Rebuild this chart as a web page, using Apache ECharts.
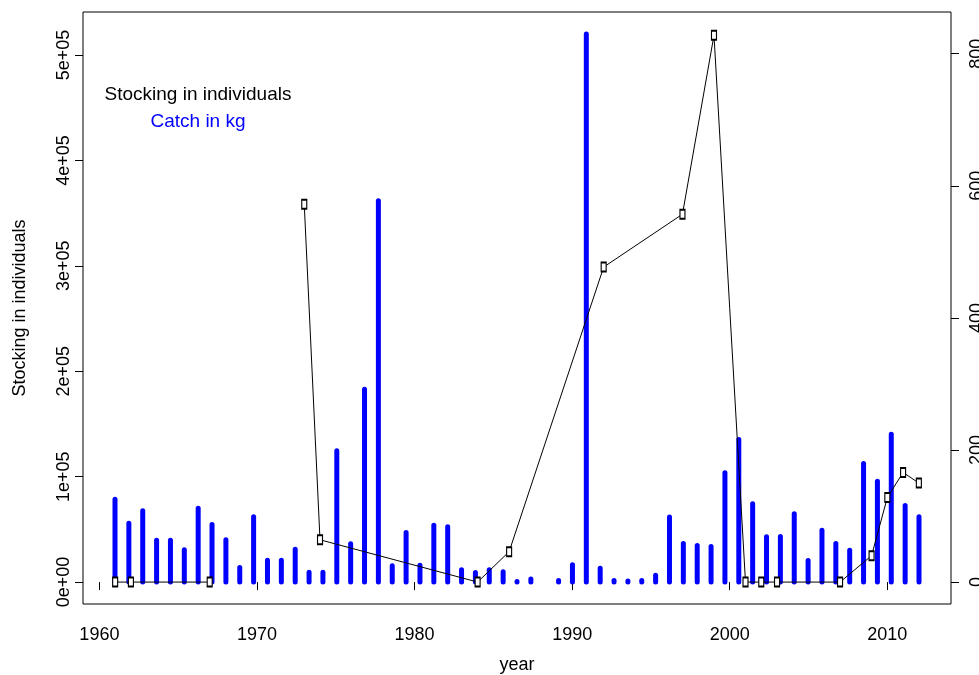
<!DOCTYPE html>
<html>
<head>
<meta charset="utf-8">
<script src="https://cdn.jsdelivr.net/npm/echarts@6/dist/echarts.min.js"></script>
<style>
  html, body { margin: 0; padding: 0; background: #fff; }
  #main { width: 979px; height: 675px; }
</style>
</head>
<body>
<div id="main"></div>
<script>
// blue bars, one per record (left axis)
var catchKg = [
  78600, 55900, 67600, 39700, 39700, 30600, 70100, 54600, 40100, 13800,
  61900, 20800, 20800, 31200, 9400, 9400, 124500, 36300, 183000, 361700,
  15500, 47000, 16000, 54000, 52500, 11700, 9100, 11700, 9800, 500,
  2800, null, 1500, 16400, 520000, 13200, 1500, 1000, 1500, 6500,
  61800, 36600, 34700, 33800, 103600, 135300, 74300, 43000, 43300, 64800,
  20500, 49200, 36600, 30300, 112500, 95700, 140300, 72700, 61900
];
var catchIdx = catchKg.map(function (v, i) { return String(i + 1); });

// black points (right axis); '-' breaks the line
var stockYears = [1961, 1962, 1967, 1970, 1973, 1974, 1984, 1986, 1992, 1997, 1999, 2001, 2002, 2003, 2007, 2009, 2010, 2011, 2012];
var stockVals  = [0, 0, 0, '-', 572, 64, 0, 46, 477, 557, 828, 0, 0, 0, 0, 40, 128, 166, 150];

var yearTicks  = [1960, 1970, 1980, 1990, 2000, 2010];
var leftTicks  = [0, 100000, 200000, 300000, 400000, 500000];
var rightTicks = [0, 200, 400, 600, 800];

var font = 'Liberation Sans';
var fs = 18;

function sci(v) {
  if (v === 0) return '0e+00';
  var e = Math.floor(Math.log10(v));
  var m = Math.round(v / Math.pow(10, e));
  return m + 'e+' + (e < 10 ? '0' + e : e);
}

var chart = echarts.init(document.getElementById('main'));

var option = {
  animation: false,
  backgroundColor: '#fff',
  grid: [
    { left: 83, right: 28, top: 12, bottom: 71, outerBoundsMode: 'none', containLabel: false,
      show: true, borderColor: '#000', borderWidth: 1, backgroundColor: 'transparent' },
    { left: 115, right: 60, top: 12, bottom: 71, outerBoundsMode: 'none', containLabel: false }
  ],
  xAxis: [{
    type: 'value', gridIndex: 0, min: 1958.96, max: 2014.04,
    name: 'year', nameLocation: 'middle', nameGap: 52,
    nameTextStyle: { fontFamily: font, fontSize: fs, color: '#000' },
    axisLine: { show: false },
    axisTick: { show: true, length: 8, customValues: yearTicks, lineStyle: { color: '#000' } },
    axisLabel: { customValues: yearTicks, margin: 22, formatter: function (v) { return String(v); }, fontFamily: font, fontSize: fs, color: '#000' },
    splitLine: { show: false }
  }, {
    type: 'category', gridIndex: 1, data: catchIdx, boundaryGap: false, show: false
  }],
  yAxis: [{
    type: 'value', gridIndex: 0, position: 'left', min: -20800, max: 540800,
    name: 'Stocking in individuals', nameLocation: 'middle', nameGap: 54,
    nameTextStyle: { fontFamily: font, fontSize: fs, color: '#000' },
    axisLine: { show: false },
    axisTick: { show: true, length: 8, customValues: leftTicks, lineStyle: { color: '#000' } },
    axisLabel: { customValues: leftTicks, rotate: 90, margin: 10, formatter: sci, fontFamily: font, fontSize: fs, color: '#000' },
    splitLine: { show: false }
  }, {
    type: 'value', gridIndex: 0, position: 'right', min: -33.2, max: 863.2,
    axisLine: { show: false },
    axisTick: { show: true, length: 8, customValues: rightTicks, lineStyle: { color: '#000' } },
    axisLabel: { customValues: rightTicks, rotate: 90, margin: 17, fontFamily: font, fontSize: fs, color: '#000' },
    splitLine: { show: false }
  }, {
    type: 'value', gridIndex: 1, min: -20800, max: 540800, show: false
  }],
  series: [{
    name: 'Catch in kg',
    type: 'custom',
    xAxisIndex: 1, yAxisIndex: 2,
    data: catchKg.map(function (v, i) { return [i, v]; }),
    renderItem: function (params, api) {
      var v = api.value(1);
      if (v == null || isNaN(v)) return null;
      var p0 = api.coord([api.value(0), 0]);
      var p1 = api.coord([api.value(0), v]);
      return {
        type: 'line',
        shape: { x1: p0[0], y1: p0[1], x2: p1[0], y2: p1[1] },
        style: { stroke: '#0000ff', lineWidth: 5, lineCap: 'round' }
      };
    }
  }, {
    name: 'Stocking in individuals',
    type: 'line',
    xAxisIndex: 0, yAxisIndex: 1,
    data: stockYears.map(function (y, i) { return [y, stockVals[i]]; }),
    connectNulls: false,
    symbol: 'rect', symbolSize: [5, 9], showAllSymbol: true,
    itemStyle: { color: '#fff', borderColor: '#000', borderWidth: 1.5 },
    lineStyle: { color: '#000', width: 1 },
    z: 3
  }],
  graphic: [{
    type: 'text', x: 198, y: 95,
    style: { text: 'Stocking in individuals', fill: '#000', font: '19px "Liberation Sans"', textAlign: 'center', textVerticalAlign: 'middle' }
  }, {
    type: 'text', x: 198, y: 122,
    style: { text: 'Catch in kg', fill: '#0000ff', font: '19px "Liberation Sans"', textAlign: 'center', textVerticalAlign: 'middle' }
  }]
};

chart.setOption(option);
</script>
</body>
</html>
